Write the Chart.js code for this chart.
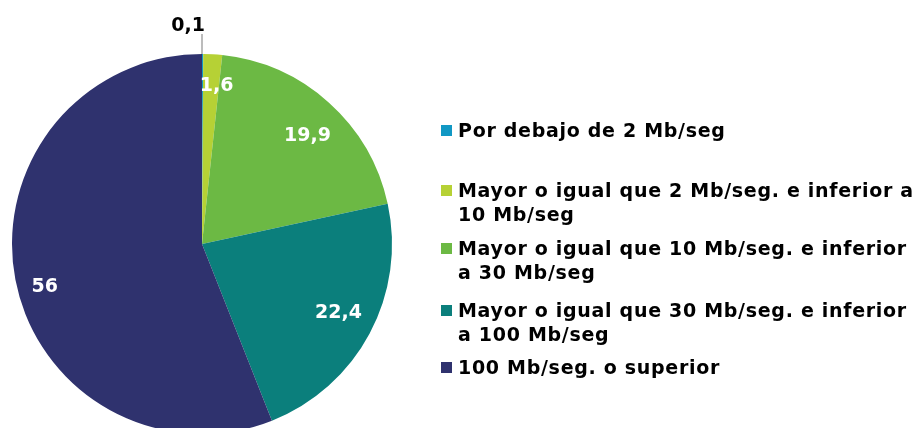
<!DOCTYPE html>
<html>
<head>
<meta charset="utf-8">
<script src="https://cdn.jsdelivr.net/npm/chart.js@4"></script>
<style>
    html, body { margin: 0; padding: 0; background: #fff; overflow: hidden; }
    #wrap { position: relative; width: 919px; height: 428px; }
    #pie-chart { position: absolute; left: 0; top: 0; }
    #legend {
        position: absolute; left: 441px; top: 0;
        font-family: "DejaVu Sans", Verdana, sans-serif; font-weight: bold;
        font-size: 19px; line-height: 24px; letter-spacing: 0.7px; color: #000;
    }
    .item { position: absolute; left: 0; white-space: nowrap; }
    .box { position: absolute; left: 0; top: 7px; width: 11px; height: 11px; }
    .txt { position: absolute; left: 17px; top: 0; }
</style>
</head>
<body>
<div id="wrap">
    <canvas id="pie-chart" width="919" height="440"></canvas>
    <div id="legend"></div>
</div>
<script>
// Velocidad de conexión (%)
const categories = [
    ['Por debajo de 2 Mb/seg'],
    ['Mayor o igual que 2 Mb/seg. e inferior a', '10 Mb/seg'],
    ['Mayor o igual que 10 Mb/seg. e inferior', 'a 30 Mb/seg'],
    ['Mayor o igual que 30 Mb/seg. e inferior', 'a 100 Mb/seg'],
    ['100 Mb/seg. o superior']
];
const values = [0.1, 1.6, 19.9, 22.4, 56];
const valueLabels = ['0,1', '1,6', '19,9', '22,4', '56'];
const colors = ['#1198c4', '#b6d135', '#6cb944', '#0b7f7c', '#2f326e'];
const legendTops = [118, 178, 236, 298, 355];

// white labels inside the slices, the tiny one goes outside with a leader line
const sliceLabels = {
    id: 'sliceLabels',
    afterDatasetsDraw(chart) {
        const ctx = chart.ctx;
        const arcs = chart.getDatasetMeta(0).data;
        // tweak per slice: radius fraction and angle shift (deg)
        const radFrac = [0, 0.845, 0.80, 0.80, 0.855];
        const angShift = [0, 2, 2, -2, -3.7];
        ctx.save();
        ctx.font = 'bold 19px "DejaVu Sans", Verdana, sans-serif';
        ctx.textAlign = 'center';
        ctx.textBaseline = 'middle';
        arcs.forEach((arc, i) => {
            const p = arc.getProps(['x', 'y', 'startAngle', 'endAngle', 'outerRadius']);
            const mid = (p.startAngle + p.endAngle) / 2 + angShift[i] * Math.PI / 180;
            if (values[i] < 1) {
                const top = p.y - p.outerRadius;
                ctx.strokeStyle = '#a6a6a6';
                ctx.lineWidth = 1.5;
                ctx.beginPath();
                ctx.moveTo(p.x, top);
                ctx.lineTo(p.x, top - 20);
                ctx.stroke();
                ctx.fillStyle = '#000';
                ctx.textAlign = 'right';
                ctx.fillText(valueLabels[i], p.x + 3, top - 28);
                ctx.textAlign = 'center';
                return;
            }
            const r = p.outerRadius * radFrac[i];
            ctx.fillStyle = '#fff';
            ctx.fillText(valueLabels[i], p.x + Math.cos(mid) * r, p.y + Math.sin(mid) * r + 2);
        });
        ctx.restore();
    }
};

const ctx = document.getElementById('pie-chart').getContext('2d');
new Chart(ctx, {
    type: 'pie',
    data: {
        labels: categories,
        datasets: [{
            data: values,
            backgroundColor: colors,
            borderWidth: 0
        }]
    },
    options: {
        responsive: false,
        animation: false,
        layout: { padding: { left: 12, right: 527, top: 54, bottom: 6 } },
        plugins: {
            legend: { display: false },
            tooltip: { enabled: false }
        }
    },
    plugins: [sliceLabels]
});

// legend built from the same arrays
const legend = document.getElementById('legend');
categories.forEach((lines, i) => {
    const item = document.createElement('div');
    item.className = 'item';
    item.style.top = legendTops[i] + 'px';
    item.innerHTML = '<div class="box" style="background:' + colors[i] + '"></div>' +
        '<div class="txt">' + lines.join('<br>') + '</div>';
    legend.appendChild(item);
});
</script>
</body>
</html>
